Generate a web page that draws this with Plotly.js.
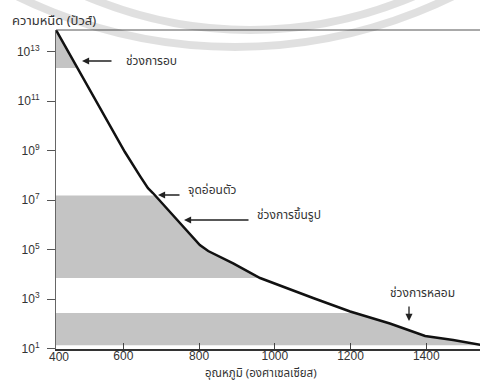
<!DOCTYPE html>
<html><head><meta charset="utf-8">
<script src="https://cdn.plot.ly/plotly-3.0.1.min.js"></script>
<style>
html,body{margin:0;padding:0;background:#fff;}
#chart{width:480px;height:388px;}
</style>
</head><body>
<div id="chart"></div>
<script>
// Viscosity of glass vs temperature
const temperature = [422, 557, 604, 644, 665, 678, 802, 824, 855, 890, 961, 1032, 1101, 1199, 1304, 1397, 1471, 1545];
const viscosity   = [7.6e13, 1.75e10, 8.9e8, 9.5e7, 3.1e7, 1.96e7, 1.56e5, 8.9e4, 5.1e4, 2.8e4, 7.2e3, 2.7e3, 1.12e3, 3.2e2, 1.05e2, 33, 22.5, 14.2];

// shaded working ranges (viscosity limits)
const bandTops    = [7.6e13, 1.55e7, 2.8e2];
const bandBottoms = [2.2e12, 7.2e3, 14];

const yTickVals = [1e1, 1e3, 1e5, 1e7, 1e9, 1e11, 1e13];
const yTickText = ['10<sup>1</sup>', '10<sup>3</sup>', '10<sup>5</sup>', '10<sup>7</sup>', '10<sup>9</sup>', '10<sup>11</sup>', '10<sup>13</sup>'];
const xTickVals = [600, 800, 1000, 1200, 1400];
const xFirstTickLabel = '400';

const labels = ['ช่วงการอบ', 'จุดอ่อนตัว', 'ช่วงการขึ้นรูป', 'ช่วงการหลอม'];
const yTitle = 'ความหนืด (ปัวส์)';
const xTitle = 'อุณหภูมิ (องศาเซลเซียส)';

const xRange = [422, 1542];
const thaiFont = '"Noto Sans Thai", "Noto Sans Thai Looped", Tahoma, "DejaVu Sans", sans-serif';
const numFont = '"Liberation Sans", Arial, sans-serif';

const logV = viscosity.map(v => Math.log10(v));
function curveXAt(L) {
  for (let i = 0; i < logV.length - 1; i++) {
    if (L <= logV[i] && L >= logV[i + 1]) {
      const t = (logV[i] - L) / (logV[i] - logV[i + 1]);
      return temperature[i] + t * (temperature[i + 1] - temperature[i]);
    }
  }
  return L > logV[0] ? temperature[0] : temperature[temperature.length - 1];
}

const traces = [];
for (let b = 0; b < bandTops.length; b++) {
  const top = bandTops[b], bot = bandBottoms[b];
  const lt = Math.log10(top), lb = Math.log10(bot);
  const xs = [xRange[0], xRange[0], curveXAt(lt)];
  const ys = [bot, top, top];
  for (let i = 0; i < logV.length; i++) {
    if (logV[i] < lt && logV[i] > lb) { xs.push(temperature[i]); ys.push(viscosity[i]); }
  }
  if (lb >= logV[logV.length - 1]) { xs.push(curveXAt(lb)); ys.push(bot); }
  else { xs.push(temperature[temperature.length - 1]); ys.push(bot); }
  traces.push({x: xs, y: ys, type: 'scatter', mode: 'lines', fill: 'toself',
    fillcolor: '#c4c4c4', line: {width: 0, color: 'rgba(0,0,0,0)'}, hoverinfo: 'skip', showlegend: false});
}
traces.push({x: temperature, y: viscosity, type: 'scatter', mode: 'lines',
  line: {color: '#111', width: 2.5}, showlegend: false});

const W = 424, H = 319, L0 = 56, B0 = 349;
const px = p => (p - L0) / W;
const py = p => (B0 - p) / H;
const txt = (t, x, y, xa, size) => ({text: t, xref: 'paper', yref: 'paper', x: px(x), y: py(y),
  xanchor: xa, yanchor: 'middle', showarrow: false, font: {family: thaiFont, size: size, color: '#333'}});
const arr = (x, y, ax, ay) => ({text: '', xref: 'paper', yref: 'paper', x: px(x), y: py(y), ax: ax, ay: ay,
  showarrow: true, arrowhead: 2, arrowsize: 1.1, arrowwidth: 1.3, arrowcolor: '#222'});

const annotations = [
  txt(labels[0], 124, 61, 'left', 12), arr(82, 61, 31, 0),
  txt(labels[1], 186, 190, 'left', 12), arr(158, 195, 23, 0),
  txt(labels[2], 255, 215, 'left', 12), arr(184, 220, 66, 0),
  txt(labels[3], 388, 293, 'left', 12), arr(409, 321, 0, -16),
  txt(yTitle, 10, 21, 'left', 13),
  txt(xTitle, 261, 373, 'center', 11.5),
  {text: xFirstTickLabel, xref: 'paper', yref: 'paper', x: px(59), y: py(357), xanchor: 'center', yanchor: 'middle',
   showarrow: false, font: {family: numFont, size: 12, color: '#333'}}
];

// faint watermark rings (decoration; pixel geometry: centre x, centre y, radius)
const ring = (cx, cy, r) => ({type: 'circle', xref: 'paper', yref: 'paper', layer: 'above',
  x0: px(cx - r), x1: px(cx + r), y0: py(cy + r), y1: py(cy - r),
  line: {color: 'rgba(0,0,0,0.12)', width: 8}, fillcolor: 'rgba(0,0,0,0)'});
const wm = [ring(235, -446, 493), ring(250, -385, 415)];

const layout = {
  width: 480, height: 388,
  margin: {l: 56, r: 0, t: 30, b: 39},
  paper_bgcolor: '#fff', plot_bgcolor: '#fff',
  xaxis: {range: xRange, tickvals: xTickVals, ticks: 'inside', ticklen: 6, tickcolor: '#444', tickwidth: 1,
    ticklabelstandoff: -5,
    showline: true, linecolor: '#333', linewidth: 1.5, showgrid: false, zeroline: false,
    tickfont: {family: numFont, size: 12, color: '#333'}},
  yaxis: {type: 'log', range: [0.99, 13.88], tickvals: yTickVals, ticktext: yTickText,
    ticks: 'outside', ticklen: 8, tickcolor: '#555', tickwidth: 1, ticklabelstandoff: 5,
    showline: true, linecolor: '#666', linewidth: 1, showgrid: false, zeroline: false,
    tickfont: {family: numFont, size: 12, color: '#333'}},
  shapes: [{type: 'line', xref: 'paper', yref: 'paper', x0: 0, x1: 1, y0: 1, y1: 1, line: {color: '#555', width: 1}}].concat(wm),
  annotations: annotations
};

Plotly.newPlot('chart', traces, layout, {staticPlot: true, displayModeBar: false});
</script>
</body></html>
